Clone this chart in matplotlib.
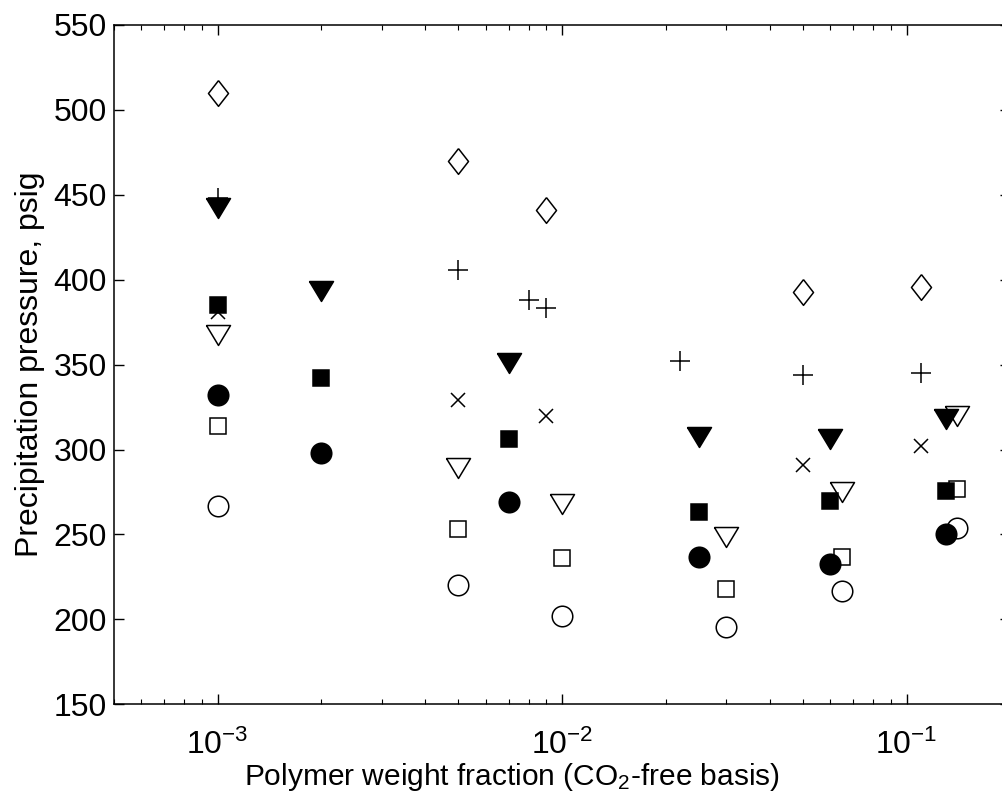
import numpy as np
import matplotlib
matplotlib.use("Agg")
import matplotlib.pyplot as plt
from matplotlib.ticker import LogLocator, NullFormatter

plt.rcParams['font.family'] = ['Liberation Sans', 'DejaVu Sans']
plt.rcParams['mathtext.fontset'] = 'custom'
plt.rcParams['mathtext.rm'] = 'Liberation Sans'
plt.rcParams['mathtext.it'] = 'Liberation Sans'

# open diamonds
x_diamond = [1e-3, 5e-3, 9e-3, 0.05, 0.11]
y_diamond = [510, 470, 441, 393, 396]
# plus
x_plus = [1e-3, 5e-3, 8e-3, 9e-3, 0.022, 0.05, 0.11]
y_plus = [448, 406, 388, 383.5, 352, 344, 345]
# cross
x_cross = [1e-3, 5e-3, 9e-3, 0.05, 0.11]
y_cross = [381, 329, 320, 291, 302]
# open triangles
x_otri = [1e-3, 5e-3, 1e-2, 0.03, 0.065, 0.14]
y_otri = [367.5, 289, 268, 248.5, 275, 320]
# open squares
x_osq = [1e-3, 5e-3, 1e-2, 0.03, 0.065, 0.14]
y_osq = [314, 253, 236, 218, 237, 277]
# open circles
x_ocir = [1e-3, 5e-3, 1e-2, 0.03, 0.065, 0.14]
y_ocir = [267, 220.5, 202, 195.5, 216.5, 254]
# filled triangles
x_ftri = [1e-3, 2e-3, 7e-3, 0.025, 0.06, 0.13]
y_ftri = [442, 393.5, 351, 307.5, 306.5, 318]
# filled squares
x_fsq = [1e-3, 2e-3, 7e-3, 0.025, 0.06, 0.13]
y_fsq = [385, 342, 306, 263, 270, 275.5]
# filled circles
x_fcir = [1e-3, 2e-3, 7e-3, 0.025, 0.06, 0.13]
y_fcir = [332, 298, 269, 237, 232.5, 250.5]

diamond = [(0, 1), (0.78, 0), (0, -1), (-0.78, 0), (0, 1)]
tri_down = [(-1, 0.83), (1, 0.83), (0, -0.83), (-1, 0.83)]

fig = plt.figure(figsize=(10.02, 7.95), dpi=100)
ax = fig.add_axes([114 / 1002, (795 - 704.3) / 795, 896.3 / 1002, 679.3 / 795])

kw = dict(linestyle='none', mec='k', mew=1.1)
ax.plot(x_diamond, y_diamond, marker=diamond, ms=18.5, mfc='white', **kw)
ax.plot(x_plus, y_plus, marker='+', ms=14.4, **kw)
ax.plot(x_cross, y_cross, marker='x', ms=10.3, **kw)
ax.plot(x_otri, y_otri, marker=tri_down, ms=17.3, mfc='white', **kw)
ax.plot(x_osq, y_osq, marker='s', ms=12, mfc='white', **kw)
ax.plot(x_ocir, y_ocir, marker='o', ms=14.8, mfc='white', **kw)
ax.plot(x_ftri, y_ftri, marker=tri_down, ms=17.3, mfc='k', **kw)
ax.plot(x_fsq, y_fsq, marker='s', ms=12, mfc='k', **kw)
ax.plot(x_fcir, y_fcir, marker='o', ms=14.8, mfc='k', **kw)

ax.set_xscale('log')
ax.set_xlim(5e-4, 0.2)
ax.set_ylim(150, 550)
ax.set_yticks(np.arange(150, 551, 50))
ax.set_xticks([1e-3, 1e-2, 1e-1])
ax.set_xticklabels(['$10^{-3}$', '$10^{-2}$', '$10^{-1}$'])
ax.xaxis.set_minor_locator(LogLocator(base=10, subs=np.arange(2, 10), numticks=20))
ax.xaxis.set_minor_formatter(NullFormatter())

ax.tick_params(which='both', direction='in', top=True, right=True, labelsize=23)
ax.tick_params(which='major', length=7.5, width=1)
ax.tick_params(which='minor', length=3.5, width=0.8)
ax.tick_params(axis='x', pad=18)
ax.tick_params(axis='y', pad=5)
for s in ax.spines.values():
    s.set_linewidth(1.1)

ax.set_xlabel('Polymer weight fraction (CO$_2$-free basis)', fontsize=21.5)
ax.xaxis.set_label_coords((512 - 114) / 896.3, -0.083)
ax.set_ylabel('Precipitation pressure, psig', fontsize=23, labelpad=6)

fig.savefig('out.png', dpi=100)
